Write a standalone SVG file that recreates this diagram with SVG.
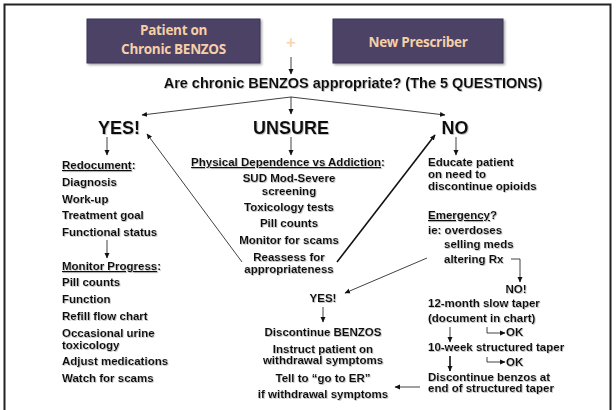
<svg xmlns="http://www.w3.org/2000/svg" width="616" height="410" viewBox="0 0 616 410">
<style>
.t{font-family:"Liberation Sans",Arial,sans-serif;font-weight:bold;font-size:11.5px;fill:#111;filter:url(#ts)}
.c{text-anchor:middle}
.big{font-size:18px}
.hd{font-size:14.5px}
.bx{fill:#4b4366;stroke:#3a3352;stroke-width:1;filter:url(#bs)}
.bt{font-family:"Open Sans",Lato,sans-serif;font-weight:700;font-size:13.5px;fill:#f7cfa6;text-anchor:middle;letter-spacing:-0.3px}
.ln{fill:none;stroke:#111;stroke-width:0.8}
.th{stroke-width:1.6}
.u{text-decoration:underline}
</style>
<defs>
<filter id="ts" x="-5%" y="-20%" width="110%" height="150%"><feDropShadow dx="0.8" dy="0.8" stdDeviation="0.4" flood-color="#888" flood-opacity="0.6"/></filter>
<filter id="bs" x="-5%" y="-10%" width="115%" height="130%"><feDropShadow dx="1.5" dy="1.5" stdDeviation="1" flood-color="#000" flood-opacity="0.35"/></filter>
<marker id="a" markerWidth="6" markerHeight="6" refX="5" refY="3" orient="auto" markerUnits="userSpaceOnUse"><path d="M0,0.5 L5.5,3 L0,5.5 Z" fill="#111"/></marker>
</defs>
<rect x="4.5" y="4.5" width="606" height="420" fill="#fff" stroke="#222" stroke-width="2"/>
<g id="box-patient"><rect class="bx" x="87" y="19" width="173" height="44"/><text class="bt" x="173.5" y="35">Patient on</text><text class="bt" x="173.5" y="54">Chronic BENZOS</text></g>
<g id="plus"><text x="291" y="48" style="font-family:Lato,sans-serif;font-weight:bold;font-size:17px;fill:#f9d4b0;text-anchor:middle">+</text></g>
<g id="box-prescriber"><rect class="bx" x="333" y="19" width="170" height="44"/><text class="bt" x="418" y="47">New Prescriber</text></g>
<g id="question"><text class="t hd c" x="353" y="88">Are chronic BENZOS appropriate? (The 5 QUESTIONS)</text></g>
<g id="yes"><text class="t big c" x="119" y="134">YES!</text></g>
<g id="unsure"><text class="t big c" x="291" y="134">UNSURE</text></g>
<g id="no"><text class="t big c" x="455" y="134">NO</text></g>
<g id="redocument">
<text class="t" x="62" y="169"><tspan class="u">Redocument</tspan>:</text>
<text class="t" x="62" y="186">Diagnosis</text>
<text class="t" x="62" y="203">Work-up</text>
<text class="t" x="62" y="219">Treatment goal</text>
<text class="t" x="62" y="236">Functional status</text>
</g>
<g id="monitor">
<text class="t" x="62" y="270"><tspan class="u">Monitor Progress</tspan>:</text>
<text class="t" x="62" y="286">Pill counts</text>
<text class="t" x="62" y="303">Function</text>
<text class="t" x="62" y="320">Refill flow chart</text>
<text class="t" x="62" y="337">Occasional urine</text>
<text class="t" x="62" y="349">toxicology</text>
<text class="t" x="62" y="365">Adjust medications</text>
<text class="t" x="62" y="382">Watch for scams</text>
</g>
<g id="dependence">
<text class="t c" x="288" y="166"><tspan class="u">Physical Dependence vs Addiction</tspan>:</text>
<text class="t c" x="289" y="182">SUD Mod-Severe</text>
<text class="t c" x="289" y="195">screening</text>
<text class="t c" x="289" y="211">Toxicology tests</text>
<text class="t c" x="289" y="227">Pill counts</text>
<text class="t c" x="289" y="244">Monitor for scams</text>
<text class="t c" x="289" y="261">Reassess for</text>
<text class="t c" x="289" y="273">appropriateness</text>
</g>
<g id="educate">
<text class="t" x="428" y="166">Educate patient</text>
<text class="t" x="428" y="178">on need to</text>
<text class="t" x="428" y="190">discontinue opioids</text>
</g>
<g id="emergency">
<text class="t" x="428" y="219"><tspan class="u">Emergency</tspan>?</text>
<text class="t" x="428" y="234">ie: overdoses</text>
<text class="t" x="444" y="248">selling meds</text>
<text class="t" x="444" y="263">altering Rx</text>
</g>
<g id="no2"><text class="t c" x="516" y="293">NO!</text></g>
<g id="taper12">
<text class="t" x="428" y="307">12-month slow taper</text>
<text class="t" x="428" y="322">(document in chart)</text>
</g>
<g id="ok1"><text class="t" x="506" y="336">OK</text></g>
<g id="taper10"><text class="t" x="428" y="351">10-week structured taper</text></g>
<g id="ok2"><text class="t" x="506" y="366">OK</text></g>
<g id="discontinue-end">
<text class="t" x="428" y="381">Discontinue benzos at</text>
<text class="t" x="428" y="392">end of structured taper</text>
</g>
<g id="yes2"><text class="t c" x="323" y="302">YES!</text></g>
<g id="discontinue">
<text class="t c" x="323" y="336">Discontinue BENZOS</text>
<text class="t c" x="323" y="353">Instruct patient on</text>
<text class="t c" x="323" y="364">withdrawal symptoms</text>
<text class="t c" x="323" y="382">Tell to “go to ER”</text>
<text class="t c" x="323" y="398">if withdrawal symptoms</text>
</g>
<g id="connectors">
<path class="ln" d="M291,57 V74" marker-end="url(#a)"/>
<path class="ln" d="M291,97 L142,115" marker-end="url(#a)"/>
<path class="ln" d="M291,97 V114" marker-end="url(#a)"/>
<path class="ln" d="M291,97 L445,115" marker-end="url(#a)"/>
<path class="ln" d="M107,137 V155" marker-end="url(#a)"/>
<path class="ln" d="M107,240 V258" marker-end="url(#a)"/>
<path class="ln" d="M291,137 V155" marker-end="url(#a)"/>
<path class="ln" d="M456,137 V155" marker-end="url(#a)"/>
<path class="ln" d="M242,262 L147,134" marker-end="url(#a)"/>
<path class="ln th" d="M337,262 L435,135" marker-end="url(#a)"/>
<path class="ln" d="M427,258 L345,293" marker-end="url(#a)"/>
<path class="ln" d="M511,259 H520 V282" marker-end="url(#a)"/>
<path class="ln" d="M323,307 V322" marker-end="url(#a)"/>
<path class="ln" d="M450,327 V342" marker-end="url(#a)"/>
<path class="ln" d="M487,327 V333 H505" marker-end="url(#a)"/>
<path class="ln th" d="M450,356 V371" marker-end="url(#a)"/>
<path class="ln" d="M487,357 V362 H505" marker-end="url(#a)"/>
<path class="ln" d="M420,387 H395" marker-end="url(#a)"/>
</g>
</svg>
